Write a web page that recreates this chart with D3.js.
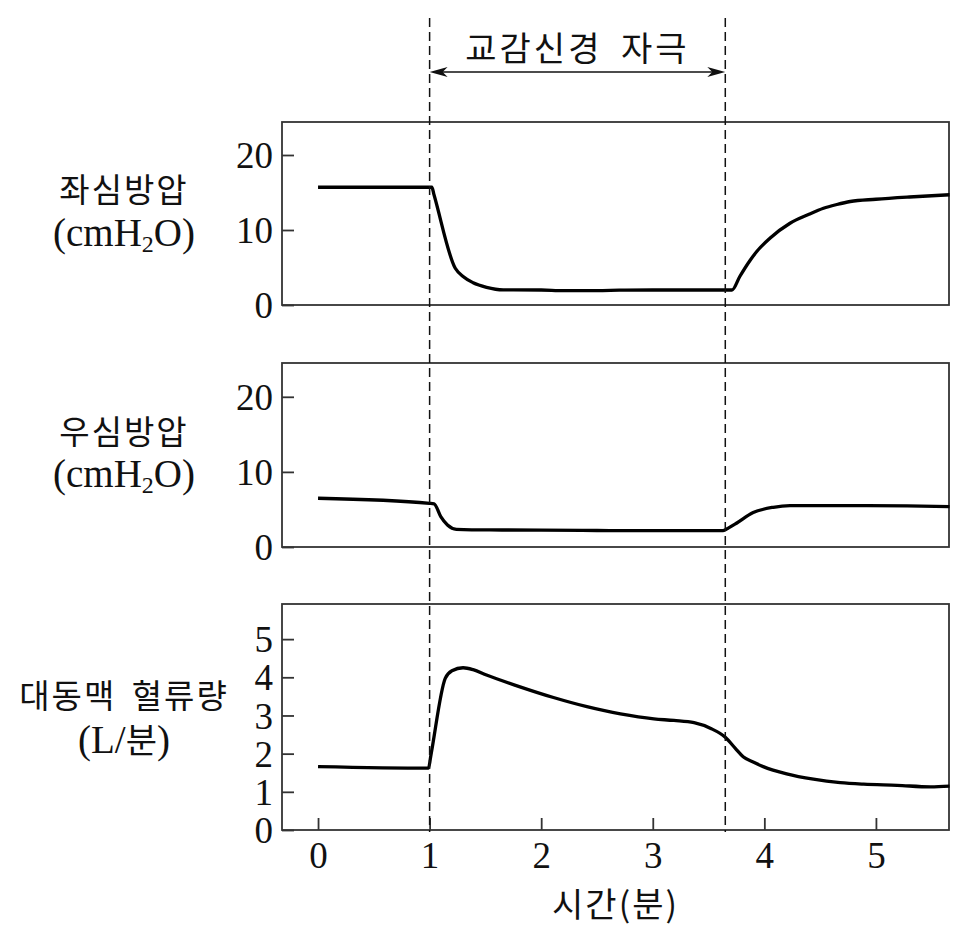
<!DOCTYPE html>
<html><head><meta charset="utf-8">
<script src="https://cdn.jsdelivr.net/npm/d3@7"></script>
<style>body{margin:0;background:#fff}</style>
</head><body>
<script>
// ---- data ----
const lapTime = [0, 1.02, 1.04, 1.23, 1.30, 1.39, 1.51, 1.66, 2.0, 2.2, 2.5, 2.7, 3.0, 3.71, 3.78, 3.87, 3.93, 4.05, 4.23, 4.4, 4.53, 4.65, 4.77, 5.0, 5.3, 5.66];
const lapValue = [15.7, 15.7, 14.67, 4.9, 3.8, 2.97, 2.36, 2.02, 2.0, 1.92, 1.92, 1.97, 2.0, 2.0, 3.8, 5.9, 7.1, 8.9, 10.9, 12.1, 12.9, 13.4, 13.8, 14.1, 14.4, 14.7];
const rapTime = [0, 1.0, 1.04, 1.10, 1.16, 1.24, 1.54, 2.0, 2.5, 3.0, 3.63, 3.68, 3.75, 3.90, 4.08, 4.23, 4.74, 5.28, 5.66];
const rapValue = [6.49, 5.82, 5.75, 4.04, 2.93, 2.36, 2.27, 2.25, 2.2, 2.17, 2.17, 2.55, 3.16, 4.58, 5.29, 5.51, 5.51, 5.47, 5.38];
const aoTime = [0, 0.99, 1.01, 1.14, 1.20, 1.30, 1.39, 1.51, 1.81, 2.11, 2.41, 2.71, 3.01, 3.19, 3.37, 3.52, 3.65, 3.74, 3.81, 3.90, 3.99, 4.2, 4.44, 4.68, 4.89, 5.19, 5.49, 5.66];
const aoValue = [1.66, 1.62, 1.93, 3.97, 4.17, 4.25, 4.2, 4.06, 3.75, 3.47, 3.23, 3.04, 2.91, 2.87, 2.81, 2.66, 2.43, 2.14, 1.92, 1.78, 1.66, 1.47, 1.33, 1.24, 1.2, 1.17, 1.13, 1.15];
const stimulusTimes = [1.0, 3.65];
const stimulusLabel = "교감신경 자극";
const xTicks = [0, 1, 2, 3, 4, 5];
const pressureTicks = [0, 10, 20];
const flowTicks = [0, 1, 2, 3, 4, 5];
const xLabel = "시간(분)";

const W = 980, H = 942;
const svg = d3.select("body").append("svg").attr("width", W).attr("height", H);
const L = 282, R = 949;
const x = d3.scaleLinear().domain([-0.323, 5.655]).range([L, R]);

const serif = "'Liberation Serif', 'Noto Sans CJK KR', serif";
const kr = "'Noto Sans CJK KR', sans-serif";

const panels = [
  {time: lapTime, value: lapValue, top: 122, bottom: 305, max: 24.4, ticks: pressureTicks,
   label: "좌심방압", unit: "cm", ly: 190, uy: 233},
  {time: rapTime, value: rapValue, top: 363, bottom: 547, max: 24.5, ticks: pressureTicks,
   label: "우심방압", unit: "cm", ly: 432, uy: 474},
  {time: aoTime, value: aoValue, top: 604, bottom: 830, max: 5.92, ticks: flowTicks,
   label: "대동맥 혈류량", unit: "L", ly: 696, uy: 740}
];

panels.forEach((p, i) => {
  const y = d3.scaleLinear().domain([0, p.max]).range([p.bottom, p.top]);
  const g = svg.append("g");
  g.append("rect").attr("x", L).attr("y", p.top).attr("width", R - L).attr("height", p.bottom - p.top)
    .attr("fill", "none").attr("stroke", "#333").attr("stroke-width", 1.8);
  const ax = g.append("g").attr("transform", `translate(${L},0)`)
    .call(d3.axisLeft(y).tickValues(p.ticks).tickSize(-12).tickPadding(9).tickFormat(d3.format("d")));
  ax.select(".domain").remove();
  ax.selectAll("line").attr("stroke", "#333").attr("stroke-width", 1.8);
  ax.selectAll("text").attr("font-family", serif).attr("font-size", 37).attr("fill", "#111").attr("dy", "0.34em");

  if (i === 2) {
    const xa = g.append("g").attr("transform", `translate(0,${p.bottom})`)
      .call(d3.axisBottom(x).tickValues(xTicks).tickSize(-12).tickFormat(d3.format("d")));
    xa.select(".domain").remove();
    xa.selectAll("line").attr("stroke", "#333").attr("stroke-width", 1.8);
    xa.selectAll("text").attr("font-family", serif).attr("font-size", 37).attr("fill", "#111")
      .attr("y", 38).attr("dy", null);
  }

  const data = p.time.map((t, k) => [t, p.value[k]]);
  g.append("path").datum(data)
    .attr("d", d3.line().x(d => x(d[0])).y(d => y(d[1])).curve(d3.curveMonotoneX))
    .attr("fill", "none").attr("stroke", "#000").attr("stroke-width", 3.3)
    .attr("stroke-linejoin", "round").attr("stroke-linecap", "butt");

  // labels
  svg.append("text").attr("x", 124).attr("y", p.ly).attr("dy", "0.36em").attr("text-anchor", "middle")
    .attr("font-family", kr).attr("font-size", 33).attr("letter-spacing", 2).attr("word-spacing", 6)
    .attr("fill", "#111").text(p.label);
  const u = svg.append("text").attr("x", 124).attr("y", p.uy).attr("dy", "0.34em").attr("text-anchor", "middle")
    .attr("font-family", serif).attr("font-size", 39).attr("fill", "#111");
  if (p.unit === "cm") {
    u.append("tspan").text("(cmH");
    u.append("tspan").attr("font-size", 24).attr("dy", "0.25em").text("2");
    u.append("tspan").attr("dy", "-0.15em").text("O)");
  } else {
    u.append("tspan").text("(L/");
    u.append("tspan").attr("font-family", kr).attr("font-size", 34).text("분");
    u.append("tspan").text(")");
  }
});

// stimulus dashed lines
stimulusTimes.forEach(t => {
  svg.append("line").attr("x1", x(t)).attr("x2", x(t)).attr("y1", 18).attr("y2", 832)
    .attr("stroke", "#111").attr("stroke-width", 1.5).attr("stroke-dasharray", "9,5");
});
// arrow
const ay = 72, x1 = x(stimulusTimes[0]), x2 = x(stimulusTimes[1]);
svg.append("line").attr("x1", x1 + 6).attr("x2", x2 - 6).attr("y1", ay).attr("y2", ay)
  .attr("stroke", "#111").attr("stroke-width", 1.6);
svg.append("path").attr("d", `M${x1},${ay} L${x1 + 18},${ay - 5} L${x1 + 13},${ay} L${x1 + 18},${ay + 5} Z`).attr("fill", "#111");
svg.append("path").attr("d", `M${x2},${ay} L${x2 - 18},${ay - 5} L${x2 - 13},${ay} L${x2 - 18},${ay + 5} Z`).attr("fill", "#111");
svg.append("text").attr("x", (x1 + x2) / 2).attr("y", 49).attr("dy", "0.36em").attr("text-anchor", "middle")
  .attr("font-family", kr).attr("font-size", 34).attr("letter-spacing", 3).attr("word-spacing", 8)
  .attr("fill", "#111").text(stimulusLabel);

// x label
svg.append("text").attr("x", (L + R) / 2).attr("y", 905).attr("dy", "0.36em").attr("text-anchor", "middle")
  .attr("font-family", kr).attr("font-size", 34).attr("letter-spacing", 2)
  .attr("fill", "#111").text(xLabel);
</script>
</body></html>
